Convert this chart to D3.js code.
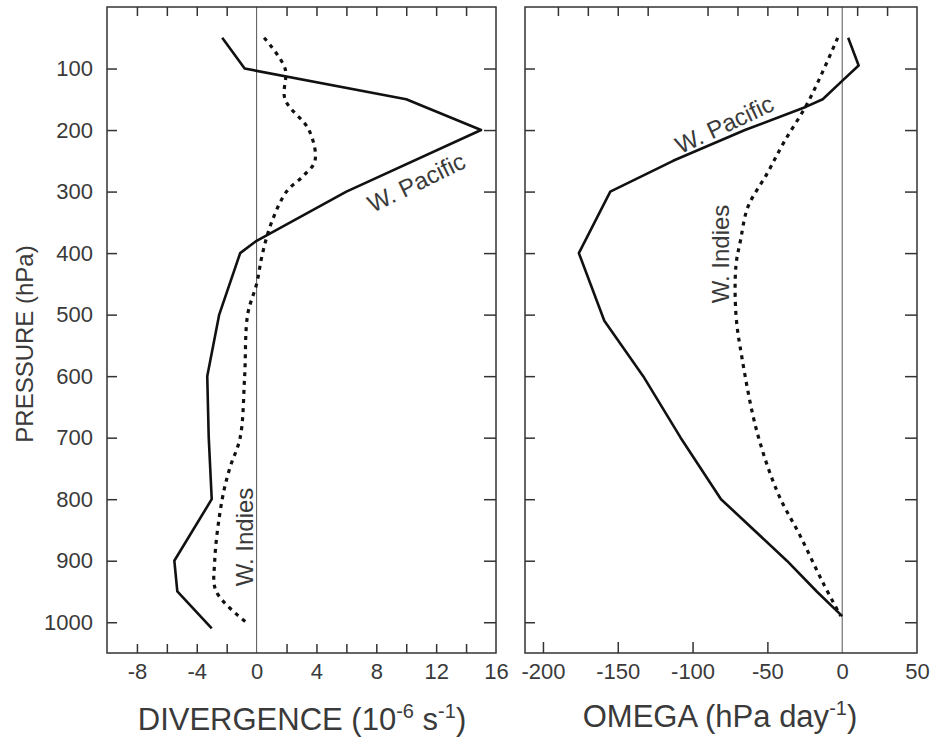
<!DOCTYPE html>
<html>
<head>
<meta charset="utf-8">
<script src="https://cdn.jsdelivr.net/npm/d3@7"></script>
<style>
  body { margin: 0; background: #fff; }
  svg { display: block; font-family: "Liberation Sans", Arial, sans-serif; }
  .frame { fill: none; stroke: #333; stroke-width: 1.5; }
  .zero { stroke: #555; stroke-width: 1; }
  .axis path { display: none; }
  .axis line { stroke: #333; stroke-width: 1.5; }
  .axis text { fill: #3a3a3a; font-size: 22px; }
  .title { fill: #3a3a3a; }
  .curve { fill: none; stroke: #111; }
  .solid { stroke-width: 2.6; stroke-linejoin: round; }
  .dotted { stroke-width: 3.2; stroke-dasharray: 4,5; }
  .label { fill: #3a3a3a; font-size: 24px; }
</style>
</head>
<body>
<svg id="chart" width="939" height="738"></svg>
<script>
// tick values
var pressureTicks = [100, 200, 300, 400, 500, 600, 700, 800, 900, 1000];
var divTickLabels = [-8, -4, 0, 4, 8, 12, 16];
var divMinorTicks = [-8, -6, -4, -2, 2, 4, 6, 8, 10, 12, 14];
var omegaTickLabels = [-200, -150, -100, -50, 0, 50];
var omegaBottomTicks = [-200, -150, -100, -50];
var omegaTopTicks = [-190, -170, -150, -130, -90, -70, -50, -30, -10, 10, 30];

// divergence (10^-6 s^-1)
var divPacificP   = [50, 100, 150, 200, 300, 380, 400, 500, 600, 700, 800, 900, 950, 1010];
var divPacificVal = [-2.3, -0.8, 10.0, 15.0, 6.0, 0.0, -1.1, -2.5, -3.3, -3.2, -3.0, -5.5, -5.3, -3.0];
var divIndiesP    = [50, 100, 150, 200, 250, 275, 300, 350, 400, 450, 500, 600, 700, 750, 800, 900, 950, 1000];
var divIndiesVal  = [0.5, 1.9, 1.9, 3.5, 3.9, 3.1, 2.0, 1.0, 0.4, 0.0, -0.6, -0.8, -1.1, -1.8, -2.3, -2.8, -2.7, -0.7];

// omega (hPa day^-1)
var omegaPacificP   = [50, 95, 120, 150, 162, 200, 250, 300, 400, 510, 600, 700, 800, 900, 950, 990];
var omegaPacificVal = [4, 11, 0, -13, -24, -65, -113, -155, -176, -159, -133, -108, -81, -37, -17, 0];
var omegaIndiesP    = [50, 105, 160, 220, 270, 325, 380, 420, 500, 570, 690, 790, 860, 935, 990];
var omegaIndiesVal  = [-3, -13, -24, -39, -50, -63, -68, -71, -71, -67, -57, -43, -28, -13, -1];

var svg = d3.select('#chart');

var y = d3.scaleLinear().domain([0, 1050]).range([7, 653]);
var xDiv = d3.scaleLinear().domain([-10, 16]).range([107, 496]);
var xOmega = d3.scaleLinear().domain([-212, 50]).range([525, 917]);

function zip(ps, vs) {
  return ps.map(function(p, i) { return [vs[i], p]; });
}

function drawPanel(x, opts) {
  var g = svg.append('g');
  var x0 = x.range()[0], x1 = x.range()[1];
  var y0 = y.range()[0], y1 = y.range()[1];

  // zero line
  g.append('line').attr('class', 'zero')
    .attr('x1', x(0)).attr('x2', x(0))
    .attr('y1', y0).attr('y2', y1);

  // left pressure axis (labels only on first panel)
  g.append('g').attr('class', 'axis')
    .attr('transform', 'translate(' + x0 + ',0)')
    .call(d3.axisLeft(y).tickValues(pressureTicks).tickSize(-10).tickPadding(14)
      .tickFormat(opts.yLabels ? function(d) { return d; } : function() { return ''; }));

  g.append('g').attr('class', 'axis')
    .attr('transform', 'translate(' + x1 + ',0)')
    .call(d3.axisRight(y).tickValues(pressureTicks).tickSize(-12).tickFormat(function() { return ''; }));

  // bottom ticks
  g.append('g').attr('class', 'axis')
    .attr('transform', 'translate(0,' + y1 + ')')
    .call(d3.axisBottom(x).tickValues(opts.bottomTicks).tickSize(-opts.bottomLen).tickFormat(function() { return ''; }));

  // bottom labels
  g.append('g').attr('class', 'axis')
    .attr('transform', 'translate(0,' + y1 + ')')
    .call(d3.axisBottom(x).tickValues(opts.labels).tickSize(0).tickPadding(10)
      .tickFormat(function(d) { return String(d); }));

  // top ticks
  g.append('g').attr('class', 'axis')
    .attr('transform', 'translate(0,' + y0 + ')')
    .call(d3.axisTop(x).tickValues(opts.topTicks).tickSize(-9).tickFormat(function() { return ''; }));

  g.append('rect').attr('class', 'frame')
    .attr('x', x0).attr('y', y0)
    .attr('width', x1 - x0).attr('height', y1 - y0);

  var line = d3.line()
    .x(function(d) { return x(d[0]); })
    .y(function(d) { return y(d[1]); });
  var smooth = d3.line()
    .x(function(d) { return x(d[0]); })
    .y(function(d) { return y(d[1]); })
    .curve(d3.curveCatmullRom);

  g.append('path').attr('class', 'curve dotted')
    .attr('d', smooth(opts.indies));
  g.append('path').attr('class', 'curve solid')
    .attr('d', (opts.smoothPacific ? smooth : line)(opts.pacific));

  return g;
}

var left = drawPanel(xDiv, {
  yLabels: true,
  bottomTicks: divMinorTicks,
  bottomLen: 9,
  topTicks: divMinorTicks,
  labels: divTickLabels,
  pacific: zip(divPacificP, divPacificVal),
  indies: zip(divIndiesP, divIndiesVal)
});

var right = drawPanel(xOmega, {
  yLabels: false,
  bottomTicks: omegaBottomTicks,
  bottomLen: 11,
  topTicks: omegaTopTicks,
  labels: omegaTickLabels,
  pacific: zip(omegaPacificP, omegaPacificVal),
  indies: zip(omegaIndiesP, omegaIndiesVal)
});

// curve labels
function addLabel(g, text, px, py, angle) {
  g.append('text').attr('class', 'label')
    .attr('text-anchor', 'middle')
    .attr('transform', 'translate(' + px + ',' + py + ') rotate(' + angle + ')')
    .text(text);
}
addLabel(left, 'W. Pacific', 420, 190, -26);
addLabel(left, 'W. Indies', 253, 537, -90);
addLabel(right, 'W. Pacific', 728, 132, -25);
addLabel(right, 'W. Indies', 729, 254, -90);

// axis titles
var t1 = svg.append('text').attr('class', 'title')
  .attr('x', 302).attr('y', 730).attr('text-anchor', 'middle')
  .style('font-size', '31px');
t1.append('tspan').text('DIVERGENCE (10');
t1.append('tspan').attr('dy', -12).style('font-size', '20px').text('-6');
t1.append('tspan').attr('dy', 12).text(' s');
t1.append('tspan').attr('dy', -12).style('font-size', '20px').text('-1');
t1.append('tspan').attr('dy', 12).text(')');

var t2 = svg.append('text').attr('class', 'title')
  .attr('x', 720).attr('y', 727).attr('text-anchor', 'middle')
  .style('font-size', '31px');
t2.append('tspan').text('OMEGA (hPa day');
t2.append('tspan').attr('dy', -12).style('font-size', '20px').text('-1');
t2.append('tspan').attr('dy', 12).text(')');

svg.append('text').attr('class', 'title')
  .attr('transform', 'translate(33,344) rotate(-90)')
  .attr('text-anchor', 'middle')
  .style('font-size', '24px')
  .text('PRESSURE (hPa)');
</script>
</body>
</html>
